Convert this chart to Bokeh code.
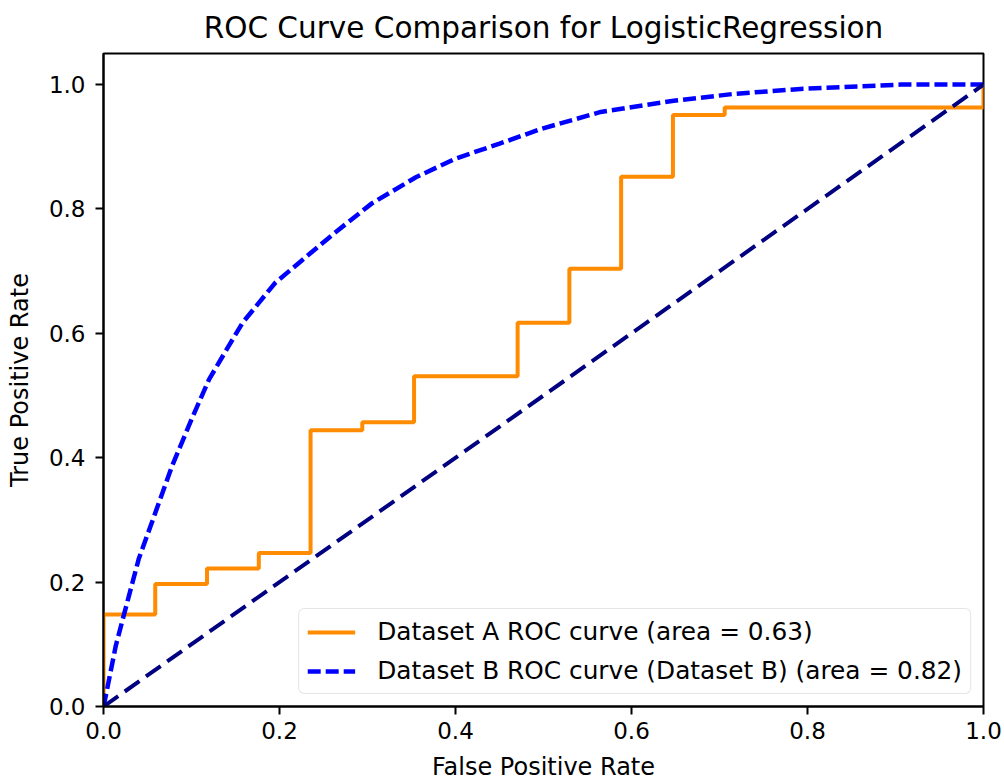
from bokeh.plotting import figure
from bokeh.models import Range1d, Legend, LegendItem, FixedTicker, CustomJSTickFormatter
from bokeh.embed import file_html
from bokeh.resources import INLINE

# ROC points, dataset A (step curve from a small test set)
fpr_a = [0.0, 0.0, 0.0588, 0.0588, 0.1176, 0.1176, 0.1765, 0.1765, 0.2353, 0.2353,
         0.2941, 0.2941, 0.3529, 0.3529, 0.4706, 0.4706, 0.5294, 0.5294, 0.5882, 0.5882,
         0.6471, 0.6471, 0.7059, 0.7059, 1.0, 1.0]
tpr_a = [0.0, 0.148, 0.148, 0.197, 0.197, 0.222, 0.222, 0.247, 0.247, 0.444,
         0.444, 0.457, 0.457, 0.531, 0.531, 0.617, 0.617, 0.704, 0.704, 0.852,
         0.852, 0.951, 0.951, 0.963, 0.963, 1.0]
auc_a = 0.63

# ROC points, dataset B (smooth curve from a larger test set)
fpr_b = [0.0, 0.002, 0.014, 0.025, 0.040, 0.059, 0.078, 0.101, 0.120, 0.142, 0.158,
         0.195, 0.226, 0.264, 0.305, 0.355, 0.400, 0.450, 0.498, 0.565, 0.648,
         0.716, 0.792, 0.906, 1.0]
tpr_b = [0.0, 0.013, 0.098, 0.157, 0.237, 0.312, 0.387, 0.465, 0.526, 0.579, 0.617,
         0.681, 0.718, 0.763, 0.809, 0.851, 0.881, 0.905, 0.929, 0.956, 0.974,
         0.985, 0.993, 1.0, 1.0]
auc_b = 0.82

# chance line
chance_x = [0.0, 1.0]
chance_y = [0.0, 1.0]

tick_values = [0.0, 0.2, 0.4, 0.6, 0.8, 1.0]

FONT = "DejaVu Sans"

p = figure(width=1004, height=783, output_backend="svg", toolbar_location=None,
           x_range=Range1d(0.0, 1.0), y_range=Range1d(0.0, 1.05),
           min_border_left=103, min_border_right=21, min_border_top=53,
           min_border_bottom=75,
           title="ROC Curve Comparison for LogisticRegression")

p.title.align = "center"
p.title.text_font = FONT
p.title.text_font_size = "29.5px"
p.title.text_font_style = "normal"
p.title.text_color = "black"
p.title.standoff = 17

p.grid.visible = False
p.outline_line_color = "black"
p.outline_line_width = 2
p.background_fill_color = "white"
p.border_fill_color = "white"

fmt = CustomJSTickFormatter(code="return tick.toFixed(1);")
for ax in (p.xaxis[0], p.yaxis[0]):
    ax.ticker = FixedTicker(ticks=tick_values)
    ax.formatter = fmt
    ax.minor_tick_line_color = None
    ax.major_tick_in = 0
    ax.major_tick_out = 8
    ax.major_tick_line_width = 2
    ax.axis_line_width = 2
    ax.axis_line_color = "black"
    ax.major_tick_line_color = "black"
    ax.major_label_text_font = FONT
    ax.major_label_text_font_size = "23px"
    ax.major_label_text_color = "black"
    ax.axis_label_text_font = FONT
    ax.axis_label_text_font_size = "24px"
    ax.axis_label_text_font_style = "normal"
    ax.axis_label_text_color = "black"

p.xaxis.axis_label = "False Positive Rate"
p.yaxis.axis_label = "True Positive Rate"
p.xaxis.major_label_standoff = 7
p.xaxis.axis_label_standoff = 11
p.yaxis.major_label_standoff = 10
p.yaxis.axis_label_standoff = 12

r_a = p.line(fpr_a, tpr_a, line_color="#ff8c00", line_width=4)
r_b = p.line(fpr_b, tpr_b, line_color="#0000ff", line_width=4.5, line_dash="13 5")
p.line(chance_x, chance_y, line_color="#000080", line_width=4, line_dash="18 8")

legend = Legend(items=[
    LegendItem(label=f"Dataset A ROC curve (area = {auc_a:.2f})", renderers=[r_a]),
    LegendItem(label=f"Dataset B ROC curve (Dataset B) (area = {auc_b:.2f})", renderers=[r_b]),
], location="bottom_right")
legend.label_text_font = FONT
legend.label_text_font_size = "24.8px"
legend.label_text_color = "black"
legend.glyph_width = 48
legend.glyph_height = 28
legend.label_height = 28
legend.label_standoff = 22
legend.spacing = 10
legend.padding = 8
legend.margin = 12
legend.border_line_color = "#cccccc"
legend.border_line_width = 1.5
legend.background_fill_alpha = 0.8
if "border_radius" in legend.properties():
    legend.border_radius = 6
p.add_layout(legend)

open("out.html", "w").write(file_html(p, INLINE))
